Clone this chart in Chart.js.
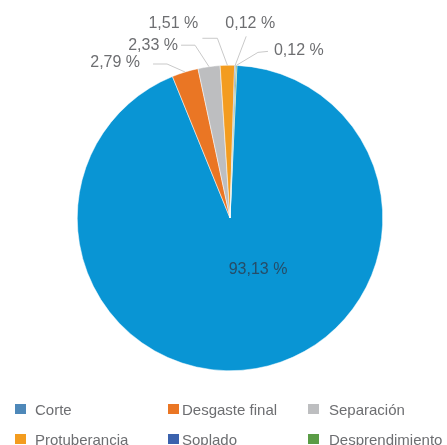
<!DOCTYPE html>
<html>
<head>
<meta charset="utf-8">
<script src="https://cdn.jsdelivr.net/npm/chart.js@4.4.0/dist/chart.umd.min.js"></script>
<style>
  body { margin: 0; background: #fff; }
  #wrap { position: relative; width: 447px; height: 445px; overflow: hidden; font-family: "Liberation Sans", Arial, sans-serif; }
  #grafica { position: absolute; left: 0; top: 0; }
  .item { position: absolute; display: flex; align-items: center; height: 20px; font-size: 15px; color: #6d6e71; white-space: nowrap; }
  .caja { width: 11px; height: 10px; flex: none; }
</style>
</head>
<body>
<div id="wrap">
  <canvas id="grafica" width="447" height="445"></canvas>
  <div id="leyenda"></div>
</div>
<script>
// Tipos de falla y su porcentaje
const categorias = ['Corte', 'Desgaste final', 'Separación', 'Protuberancia', 'Soplado', 'Desprendimiento'];
const valores = [93.13, 2.79, 2.33, 1.51, 0.12, 0.12];
const coloresPastel = ['#0995d4', '#ea7624', '#bdbec0', '#f39c1f', '#3b62ad', '#5a9c46'];
const coloresLeyenda = ['#4e88b9', '#ea7624', '#bdbec0', '#f39c1f', '#3b62ad', '#5a9c46'];

// Guias de las etiquetas: desplazamientos desde el borde de cada porción
const guias = [
    { dentro: true, texto: [28, 52] },
    { linea: [[-18, -8], [-32, -8]], texto: [-45, -9], alinear: 'right' },
    { linea: [[-14, -21.5], [-28, -21.5]], texto: [-31, -21.5], alinear: 'right' },
    { linea: [[-10, -27], [-25, -27]], texto: [-54, -42], alinear: 'center' },
    { linea: [[11, -29]], texto: [15, -42], alinear: 'center' },
    { linea: [[21.6, -13], [31.6, -14]], texto: [37.6, -15], alinear: 'left' }
];

const etiquetasPlugin = {
    id: 'etiquetas',
    afterDatasetsDraw(chart) {
        const ctx = chart.ctx;
        const arcos = chart.getDatasetMeta(0).data;
        ctx.save();
        ctx.font = '16px "Liberation Sans", Arial, sans-serif';
        ctx.textBaseline = 'middle';
        arcos.forEach((arco, i) => {
            const p = arco.getProps(['x', 'y', 'startAngle', 'endAngle', 'outerRadius'], true);
            const medio = (p.startAngle + p.endAngle) / 2;
            const texto = valores[i].toFixed(2).replace('.', ',') + ' %';
            const g = guias[i];
            if (g.dentro) {
                ctx.fillStyle = '#264d68';
                ctx.textAlign = 'center';
                ctx.fillText(texto, p.x + g.texto[0], p.y + g.texto[1]);
                return;
            }
            const ax = p.x + Math.cos(medio) * p.outerRadius;
            const ay = p.y + Math.sin(medio) * p.outerRadius;
            ctx.strokeStyle = '#c9c9c9';
            ctx.lineWidth = 1;
            ctx.beginPath();
            ctx.moveTo(ax, ay);
            g.linea.forEach(q => ctx.lineTo(ax + q[0], ay + q[1]));
            ctx.stroke();
            ctx.fillStyle = '#6d6e71';
            ctx.textAlign = g.alinear;
            ctx.fillText(texto, ax + g.texto[0], ay + g.texto[1]);
        });
        ctx.restore();
    }
};

new Chart(document.getElementById('grafica').getContext('2d'), {
    type: 'pie',
    data: {
        labels: categorias,
        datasets: [{
            data: valores,
            backgroundColor: coloresPastel,
            borderColor: '#ffffff',
            borderWidth: 0.5
        }]
    },
    options: {
        responsive: false,
        animation: false,
        rotation: 2.6,
        layout: { padding: { top: 65, bottom: 74, left: 77, right: 64 } },
        plugins: {
            legend: { display: false },
            tooltip: { enabled: false }
        }
    },
    plugins: [etiquetasPlugin]
});

// Leyenda en tres columnas
const columnas = [{ x: 15, sep: 9 }, { x: 168, sep: 3 }, { x: 308, sep: 10 }];
const leyenda = document.getElementById('leyenda');
categorias.forEach((nombre, i) => {
    const col = columnas[i % 3];
    const fila = Math.floor(i / 3);
    const item = document.createElement('div');
    item.className = 'item';
    item.style.left = col.x + 'px';
    item.style.top = (399 + fila * 30) + 'px';
    const caja = document.createElement('span');
    caja.className = 'caja';
    caja.style.background = coloresLeyenda[i];
    caja.style.marginRight = col.sep + 'px';
    item.appendChild(caja);
    item.appendChild(document.createTextNode(nombre));
    leyenda.appendChild(item);
});
</script>
</body>
</html>
